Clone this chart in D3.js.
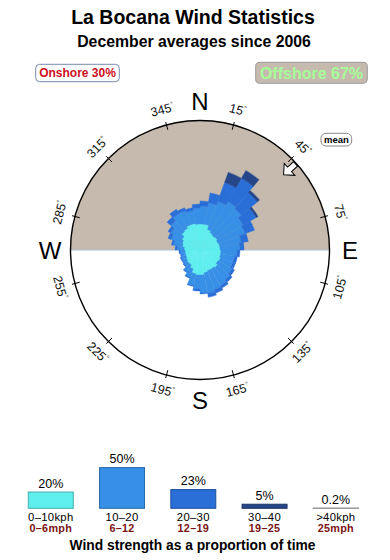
<!DOCTYPE html>
<html>
<head>
<meta charset="utf-8">
<script src="https://cdn.jsdelivr.net/npm/d3@7"></script>
<style>
  body { margin: 0; background: #fff; }
  svg { display: block; font-family: "Liberation Sans", Arial, sans-serif; }
</style>
</head>
<body>
<script>
// direction bins (centre of each 10 degree sector)
const dirs = [5, 15, 25, 35, 45, 55, 65, 75, 85, 95, 105, 115, 125, 135, 145, 155, 165, 175,
              185, 195, 205, 215, 225, 235, 245, 255, 265, 275, 285, 295, 305, 315, 325, 335, 345, 355];

// % of time per sector for each speed band
const s0_10  = [0.93, 0.93, 0.66, 0.55, 0.50, 0.55, 0.50, 0.55, 0.55, 0.60, 0.60, 0.66, 0.60, 0.73, 0.66, 0.66, 0.73, 0.86,
                0.86, 0.79, 0.55, 0.40, 0.40, 0.35, 0.31, 0.31, 0.31, 0.35, 0.44, 0.50, 0.60, 0.79, 0.86, 1.00, 1.00, 0.93];
const s10_20 = [1.73, 2.23, 3.05, 3.75, 3.50, 2.88, 2.67, 1.87, 1.65, 1.27, 1.08, 1.02, 1.27, 1.36, 1.64, 1.76, 1.93, 1.68,
                1.23, 0.99, 0.60, 0.46, 0.21, 0.20, 0.24, 0.19, 0.24, 0.37, 0.56, 0.82, 0.98, 1.19, 1.56, 1.42, 1.19, 1.49];
const s20_30 = [0.64, 1.45, 3.40, 5.15, 3.72, 2.37, 1.45, 0.87, 0.46, 0.32, 0.30, 0.30, 0.32, 0.33, 0.35, 0.48, 0.50, 0.12,
                0.22, 0.10, 0.08, 0.07, 0.06, 0.06, 0.06, 0.05, 0.06, 0.13, 0.15, 0.27, 0.29, 0.56, 0.61, 0.36, 0.34, 0.48];
const s30_40 = [0, 0, 2.34, 2.16, 0.63, 0.36, 0, 0, 0, 0, 0, 0, 0, 0, 0, 0, 0, 0,
                0, 0, 0, 0, 0, 0, 0, 0, 0, 0, 0, 0, 0, 0, 0, 0, 0, 0];
const s40p   = [0, 0, 0.05, 0.08, 0.03, 0, 0, 0, 0, 0, 0, 0, 0, 0, 0, 0, 0, 0,
                0, 0, 0, 0, 0, 0, 0, 0, 0, 0, 0, 0, 0, 0, 0, 0, 0, 0];

const bandKph = ["0\u201310kph", "10\u201320", "20\u201330", "30\u201340", ">40kph"];
const bandMph = ["0\u20136mph", "6\u201312", "12\u201319", "19\u201325", "25mph"];
const bandPct = [20, 50, 23, 5, 0.2];
const bandColors = ["#5eeeee", "#3790e6", "#2a6fd8", "#26468a", "#aaaaaa"];

const tickDegrees = [15, 45, 75, 105, 135, 165, 195, 225, 255, 285, 315, 345];
const compass = [["N", 0], ["E", 90], ["S", 180], ["W", 270]];
const meanDir = 48;
const onshorePct = 30, offshorePct = 67;

const W = 390, H = 560;
const cx = 200, cy = 250, R = 129.5;
const svg = d3.select("body").append("svg").attr("width", W).attr("height", H);

// titles
svg.append("text").attr("x", 193).attr("y", 24).attr("text-anchor", "middle")
  .style("font-weight", "bold").style("font-size", "19.5px").text("La Bocana Wind Statistics");
svg.append("text").attr("x", 194).attr("y", 46.5).attr("text-anchor", "middle")
  .style("font-weight", "bold").style("font-size", "15.8px").text("December averages since 2006");

// onshore / offshore boxes
svg.append("rect").attr("x", 35.7).attr("y", 64.3).attr("width", 83.6).attr("height", 17.4)
  .attr("rx", 4).attr("fill", "#fff").attr("stroke", "#7b8bad");
svg.append("text").attr("x", 77.5).attr("y", 77.3).attr("text-anchor", "middle")
  .style("font-weight", "bold").style("font-size", "12px").attr("fill", "#cc1122")
  .text(`Onshore ${onshorePct}%`);
svg.append("rect").attr("x", 255.7).attr("y", 62.3).attr("width", 111.6).attr("height", 21)
  .attr("rx", 4).attr("fill", "#c5baad").attr("stroke", "#9a9a9a");
svg.append("text").attr("x", 311.5).attr("y", 78.8).attr("text-anchor", "middle")
  .style("font-weight", "bold").style("font-size", "16px").attr("fill", "#a6ff98")
  .text(`Offshore ${offshorePct}%`);

// rose
const g = svg.append("g").attr("transform", `translate(${cx},${cy})`);
const rad = d => d * Math.PI / 180;

// offshore half (north of W-E line)
g.append("path")
  .attr("d", d3.arc()({innerRadius: 0, outerRadius: R, startAngle: rad(-90), endAngle: rad(90)}))
  .attr("fill", "#c5baad");
g.append("line").attr("x1", -R).attr("x2", R).attr("y1", 0).attr("y2", 0)
  .attr("stroke", "#a9c0d2").attr("stroke-width", 1);

const rScale = d3.scaleSqrt().domain([0, 23]).range([0, R]);
const bands = [s0_10, s10_20, s20_30, s30_40, s40p];
const table = dirs.map((d, i) => {
  const row = {dir: d};
  bands.forEach((b, k) => row["b" + k] = b[i]);
  return row;
});
const stacked = d3.stack().keys(["b0", "b1", "b2", "b3", "b4"])(table);
const arc = d3.arc();

stacked.forEach((layer, k) => {
  g.append("g").selectAll("path").data(layer.filter(p => p[1] > p[0])).join("path")
    .attr("d", p => arc({
      innerRadius: rScale(p[0]),
      outerRadius: rScale(p[1]),
      startAngle: rad(p.data.dir - 5),
      endAngle: rad(p.data.dir + 5)
    }))
    .attr("fill", bandColors[k])
    .attr("stroke", bandColors[k])
    .attr("stroke-width", 0.4);
});

// mean arrow
const arrow = g.append("g").attr("transform", `rotate(${meanDir})`);
const aTip = R - 17, aBase = R - 9, aHalf = 8, sHalf = 3;
arrow.append("path")
  .attr("d", d3.line()([
    [0, -aTip], [aHalf, -aBase], [sHalf, -aBase], [sHalf, -R + 1],
    [-sHalf, -R + 1], [-sHalf, -aBase], [-aHalf, -aBase]
  ]) + "Z")
  .attr("fill", "#fff").attr("stroke", "#000").attr("stroke-width", 1)
  .attr("stroke-linejoin", "miter");

// outline
g.append("circle").attr("r", R).attr("fill", "none").attr("stroke", "#000").attr("stroke-width", 1.4);

// degree ticks and labels
g.selectAll(".tick").data(tickDegrees).join("line")
  .attr("x1", d => (R - 5) * Math.sin(rad(d))).attr("y1", d => -(R - 5) * Math.cos(rad(d)))
  .attr("x2", d => (R + 3) * Math.sin(rad(d))).attr("y2", d => -(R + 3) * Math.cos(rad(d)))
  .attr("stroke", "#000").attr("stroke-width", 1);

const lbl = g.selectAll(".deg").data(tickDegrees).join("text")
  .attr("transform", d => {
    const x = 145 * Math.sin(rad(d)), y = -145 * Math.cos(rad(d));
    const rot = ((d + 90) % 180) - 90;
    return `translate(${x},${y}) rotate(${rot})`;
  })
  .attr("text-anchor", "middle").attr("dominant-baseline", "central")
  .style("font-size", "12.5px").attr("fill", "#111");
lbl.append("tspan").text(d => d);
lbl.append("tspan").attr("dy", -4).style("font-size", "7px").text("\u00b0");

g.selectAll(".cmp").data(compass).join("text")
  .attr("x", d => 150 * Math.sin(rad(d[1])))
  .attr("y", d => -150 * Math.cos(rad(d[1])) + (d[0] === "N" ? 1.5 : 0))
  .attr("text-anchor", "middle").attr("dominant-baseline", "central")
  .style("font-size", "24px").text(d => d[0]);

// mean label
svg.append("rect").attr("x", 321).attr("y", 133.3).attr("width", 30.7).attr("height", 12.7)
  .attr("rx", 5).attr("fill", "#fff").attr("stroke", "#888");
svg.append("text").attr("x", 336.4).attr("y", 143).attr("text-anchor", "middle")
  .style("font-weight", "bold").style("font-size", "9.5px").text("mean");

// speed legend
const baseY = 508.3;
const x = d3.scaleBand().domain(bandKph).range([15.15, 371.45]).paddingInner(0.369).paddingOuter(0.1845);
const h = d3.scaleLinear().domain([0, 50]).range([0, 40.7]);
const leg = svg.append("g").selectAll("g").data(bandKph).join("g");
leg.append("rect")
  .attr("x", d => x(d)).attr("width", x.bandwidth())
  .attr("y", (d, i) => baseY - h(bandPct[i])).attr("height", (d, i) => h(bandPct[i]))
  .attr("fill", (d, i) => bandColors[i])
  .attr("stroke", (d, i) => i === 4 ? "#9c9c9c" : d3.color(bandColors[i]).darker(0.9))
  .attr("stroke-width", (d, i) => i === 4 ? 1.4 : 1);
leg.append("text")
  .attr("x", d => x(d) + x.bandwidth() / 2)
  .attr("y", (d, i) => baseY - h(bandPct[i]) - 4.5)
  .attr("text-anchor", "middle").style("font-size", "12.5px")
  .text((d, i) => bandPct[i] + "%");
leg.append("text")
  .attr("x", d => x(d) + x.bandwidth() / 2).attr("y", 521)
  .attr("text-anchor", "middle").style("font-size", "11.3px").style("letter-spacing", "0.3px")
  .text(d => d);
leg.append("text")
  .attr("x", d => x(d) + x.bandwidth() / 2).attr("y", 532.3)
  .attr("text-anchor", "middle").style("font-size", "10.8px").style("font-weight", "bold")
  .style("letter-spacing", "0.3px")
  .attr("fill", "#7a1414")
  .text((d, i) => bandMph[i]);

svg.append("text").attr("x", 192.5).attr("y", 550).attr("text-anchor", "middle")
  .style("font-weight", "bold").style("font-size", "13.8px")
  .text("Wind strength as a proportion of time");
</script>
</body>
</html>
